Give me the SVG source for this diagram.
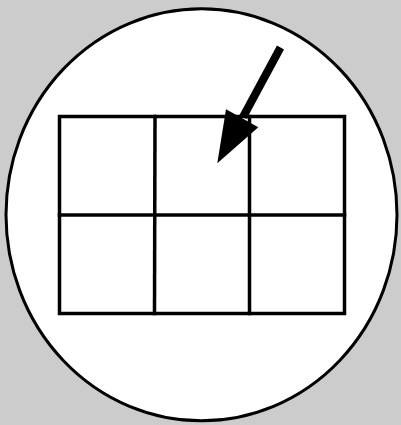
<svg xmlns="http://www.w3.org/2000/svg" width="401" height="425" viewBox="0 0 401 425">
<style>
.g{fill:none;stroke:#000;stroke-width:3.5;stroke-linecap:square}
</style>
<rect x="0" y="0" width="401" height="425" fill="#cccccc"/>
<g id="circle"><ellipse cx="201.5" cy="214.8" rx="195.5" ry="206" fill="#fff" stroke="#000" stroke-width="3"/></g>
<g id="grid">
<rect class="g" x="59.5" y="116.5" width="285" height="197"/>
<line class="g" x1="59.5" y1="215" x2="344.5" y2="215"/>
<line class="g" x1="155" y1="116.5" x2="154.5" y2="313.5"/>
<line class="g" x1="249.5" y1="116.5" x2="249.5" y2="313.5"/>
</g>
<g id="connectors">
<line x1="280.5" y1="47.5" x2="243" y2="117" stroke="#000" stroke-width="8"/>
<polygon points="217.3,163.3 226,109.3 258.3,127.3" fill="#000"/>
</g>
</svg>
